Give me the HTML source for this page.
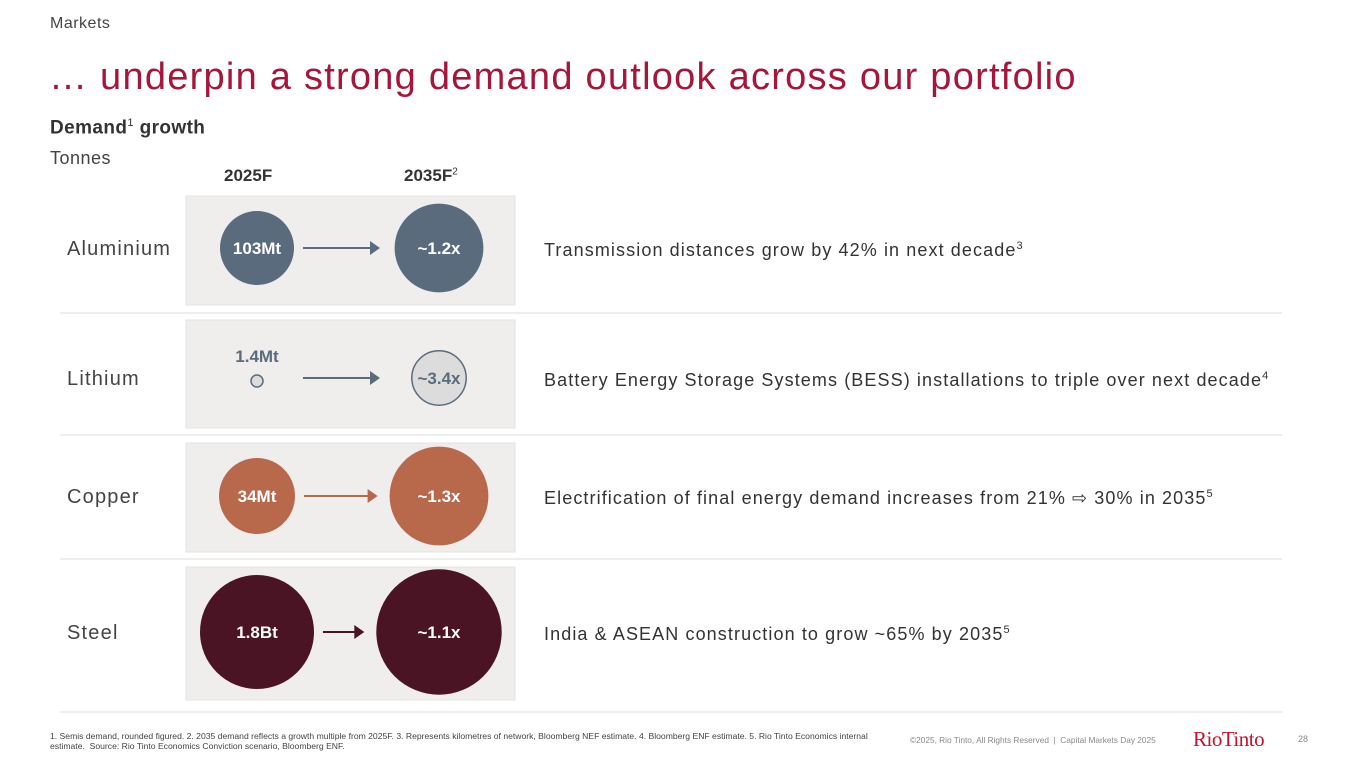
<!DOCTYPE html>
<html><head><meta charset="utf-8">
<style>
body{margin:0;width:1365px;height:768px;background:#fff;font-family:"Liberation Sans",sans-serif;position:relative;overflow:hidden;color:#333}
.a{position:absolute;white-space:nowrap}
</style></head>
<body>
<div class="a" style="left:50px;top:15px;font-size:16px;color:#444;letter-spacing:0.5px">Markets</div>
<div class="a" style="left:49px;top:56px;font-size:38px;color:#a6153a;letter-spacing:1.25px">… underpin a strong demand outlook across our portfolio</div>
<div class="a" style="left:50px;top:117px;font-size:19px;font-weight:bold;color:#333;letter-spacing:0.4px">Demand<sup style="font-size:11px;font-weight:normal">1</sup> growth</div>
<div class="a" style="left:50px;top:148px;font-size:18px;color:#444;letter-spacing:0.5px">Tonnes</div>
<div class="a" style="left:224px;top:166px;font-size:17px;font-weight:bold;color:#333">2025F</div>
<div class="a" style="left:404px;top:166px;font-size:17px;font-weight:bold;color:#333">2035F<sup style="font-size:10px;font-weight:normal">2</sup></div>
<svg id="chart" class="a" style="left:0;top:0" width="1365" height="768"></svg>
<div class="a" style="left:50px;top:731px;font-size:8.6px;line-height:10px;color:#444">1. Semis demand, rounded figured. 2. 2035 demand reflects a growth multiple from 2025F. 3. Represents kilometres of network, Bloomberg NEF estimate. 4. Bloomberg ENF estimate. 5. Rio Tinto Economics internal<br>estimate.&nbsp; Source: Rio Tinto Economics Conviction scenario, Bloomberg ENF.</div>
<div class="a" style="left:910px;top:735px;font-size:8.3px;color:#888">©2025, Rio Tinto, All Rights Reserved &nbsp;|&nbsp; Capital Markets Day 2025</div>
<div class="a" style="left:1193px;top:727px;font-size:21px;font-family:'Liberation Serif',serif;color:#c8102e;letter-spacing:-0.5px">RioTinto</div>
<div class="a" style="left:1298px;top:734px;font-size:9px;color:#888">28</div>
<script>
const commodities=["Aluminium","Lithium","Copper","Steel"];
const baseLabels=["103Mt","1.4Mt","34Mt","1.8Bt"];
const multipliers=[1.2,3.4,1.3,1.1];
const multLabels=["~1.2x","~3.4x","~1.3x","~1.1x"];
const notes=["Transmission distances grow by 42% in next decade","Battery Energy Storage Systems (BESS) installations to triple over next decade","Electrification of final energy demand increases from 21% ⇨ 30% in 2035","India & ASEAN construction to grow ~65% by 2035"];
const noteSups=["3","4","5","5"];
const colors=["#5a6b7d","#dcdcdc","#b8694b","#4a1424"];
const baseR=[37,8,38,57];
const panels=[[196,305],[320,428],[443,552],[567,700]];
const cy=[248,378,496,632];
const svg=document.getElementById('chart');
const NS='http://www.w3.org/2000/svg';
function mk(t,a,p){const e=document.createElementNS(NS,t);for(const k in a)e.setAttribute(k,a[k]);(p||svg).appendChild(e);return e;}
[313,435,559,712].forEach((y,i)=>{const l=mk('line',{x1:60,x2:1282,y1:y,y2:y,stroke:'#ddd','stroke-width':1});

});
commodities.forEach((c,i)=>{
  const p=mk('rect',{x:186,y:panels[i][0],width:329,height:panels[i][1]-panels[i][0],fill:'#f0eeec',stroke:'#e4e2e0'});
  
  
  const y=cy[i];
  const lab=mk('text',{x:67,y:y+7,'font-size':20,fill:'#444','letter-spacing':1.2});lab.textContent=c;
  
  
  const r0=baseR[i],r1=r0*multipliers[i];
  const light=i===1;
  const lc=mk('circle',{cx:257,cy:light?y+3:y,r:light?6:r0,fill:colors[i],stroke:light?'#5a6b7d':'none','stroke-width':1.5});
  
  
  const lt=mk('text',{x:257,y:light?y-16:y+6,'text-anchor':'middle','font-size':17,'font-weight':'bold',fill:light?'#5a6b7d':'#fff'});lt.textContent=baseLabels[i];
  
  
  const rc=mk('circle',{cx:439,cy:y,r:r1,fill:colors[i],stroke:light?'#5a6b7d':'none','stroke-width':1.5});
  
  
  const rt=mk('text',{x:439,y:y+6,'text-anchor':'middle','font-size':17,'font-weight':'bold',fill:light?'#5a6b7d':'#fff'});rt.textContent=multLabels[i];
  
  
  const ac=i===1?'#5a6b7d':colors[i];
  const ax1=257+Math.max(r0,37)+9, ax2=439-Math.max(r1,47)-12;
  const al=mk('line',{x1:ax1,x2:ax2-8,y1:y,y2:y,stroke:ac,'stroke-width':2});
  
  
  mk('polygon',{points:`${ax2-10},${y-7} ${ax2},${y} ${ax2-10},${y+7}`,fill:ac});
  const n=mk('text',{x:544,y:y+8,'font-size':18,fill:'#333','letter-spacing':1.1});n.textContent=notes[i];
  const s=mk('tspan',{dy:-7,'font-size':11},n);s.textContent=noteSups[i];
  
  
});
</script>
</body></html>
